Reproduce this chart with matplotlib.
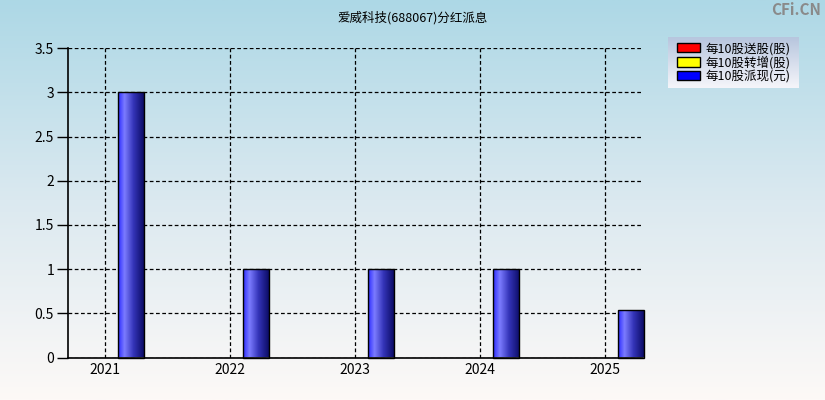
import numpy as np
import matplotlib
matplotlib.use("Agg")
import matplotlib.pyplot as plt
from matplotlib.colors import LinearSegmentedColormap
from matplotlib.patches import Patch

plt.rcParams['font.family'] = ['Noto Sans CJK SC', 'DejaVu Sans']

title = "爱威科技(688067)分红派息"
years = ["2021", "2022", "2023", "2024", "2025"]
cash_per10 = [3.0, 1.0, 1.0, 1.0, 0.54]
legend_labels = ["每10股送股(股)", "每10股转增(股)", "每10股派现(元)"]
legend_colors = ["#ff0000", "#ffff00", "#0000ff"]

W, H = 825, 400
fig = plt.figure(figsize=(W / 100, H / 100), dpi=100)

# background gradient (light blue -> near white)
bg = fig.add_axes([0, 0, 1, 1], zorder=-10)
bg_cmap = LinearSegmentedColormap.from_list("bg", ["#add8e6", "#dbe9f0", "#fdf9f7"])
bg.imshow(np.linspace(0, 1, 256).reshape(-1, 1), aspect="auto", cmap=bg_cmap,
          extent=[0, 1, 0, 1])
bg.axis("off")

left, right, top, bottom = 68, 643, 48.3, 357.5
ax = fig.add_axes([left / W, (H - bottom) / H, (right - left) / W, (bottom - top) / H])
ax.patch.set_alpha(0)

x = np.arange(len(years))
bw = 0.208
bars = ax.bar(x + bw, cash_per10, width=bw, color="none", edgecolor="black",
              linewidth=1, zorder=3, clip_on=False)

bar_cmap = LinearSegmentedColormap.from_list(
    "bar", [(0, "#2a2aff"), (0.25, "#7c7cff"), (0.6, "#3434b8"), (1, "#0c0c66")])
grad = np.linspace(0, 1, 128).reshape(1, -1)
for b in bars:
    x0, y0 = b.get_x(), b.get_y()
    im = ax.imshow(grad, aspect="auto", cmap=bar_cmap,
                   extent=[x0, x0 + b.get_width(), y0, y0 + b.get_height()], zorder=2)
    im.set_clip_path(b)

ax.set_xlim(-0.296, 4.304)
ax.set_ylim(0, 3.5)
ax.set_xticks(x)
ax.set_xticklabels(years)
ax.set_yticks(np.arange(0, 3.51, 0.5))
ax.set_yticklabels(["%g" % v for v in np.arange(0, 3.51, 0.5)])
ax.tick_params(axis="y", length=8, width=1, labelsize=10, pad=2)
ax.tick_params(axis="x", length=0, labelsize=10, pad=4)
ax.grid(True, color="black", linestyle=(0, (3, 2)), linewidth=0.9, zorder=1)
ax.set_axisbelow(True)
for s in ["top", "right"]:
    ax.spines[s].set_visible(False)
for s in ["left", "bottom"]:
    ax.spines[s].set_linewidth(1.2)

fig.text(0.5, 1 - 18 / H, title, ha="center", va="center", fontsize=9)
fig.text(1 - 4 / W, 1 - 10 / H, "CFi.CN", ha="right", va="center", fontsize=11,
         color="#8a8a8a", fontweight="bold")

# legend box with gradient
lx0, lx1, ly0, ly1 = 668, 799, 37, 88
lax = fig.add_axes([lx0 / W, (H - ly1) / H, (lx1 - lx0) / W, (ly1 - ly0) / H])
lg_cmap = LinearSegmentedColormap.from_list("lg", ["#b7c6de", "#f5f5fa"])
lax.imshow(np.linspace(0, 1, 64).reshape(-1, 1), aspect="auto", cmap=lg_cmap,
           extent=[0, 1, 0, 1])
lax.set_xlim(0, 1)
lax.set_ylim(0, 1)
lax.axis("off")
handles = [Patch(facecolor=c, edgecolor="black", linewidth=1) for c in legend_colors]
lax.legend(handles, legend_labels, loc="center", frameon=False, fontsize=9,
           handlelength=1.9, handleheight=0.8, handletextpad=0.4,
           labelspacing=0.05, borderpad=0.2)

fig.savefig("out.png", dpi=100)
